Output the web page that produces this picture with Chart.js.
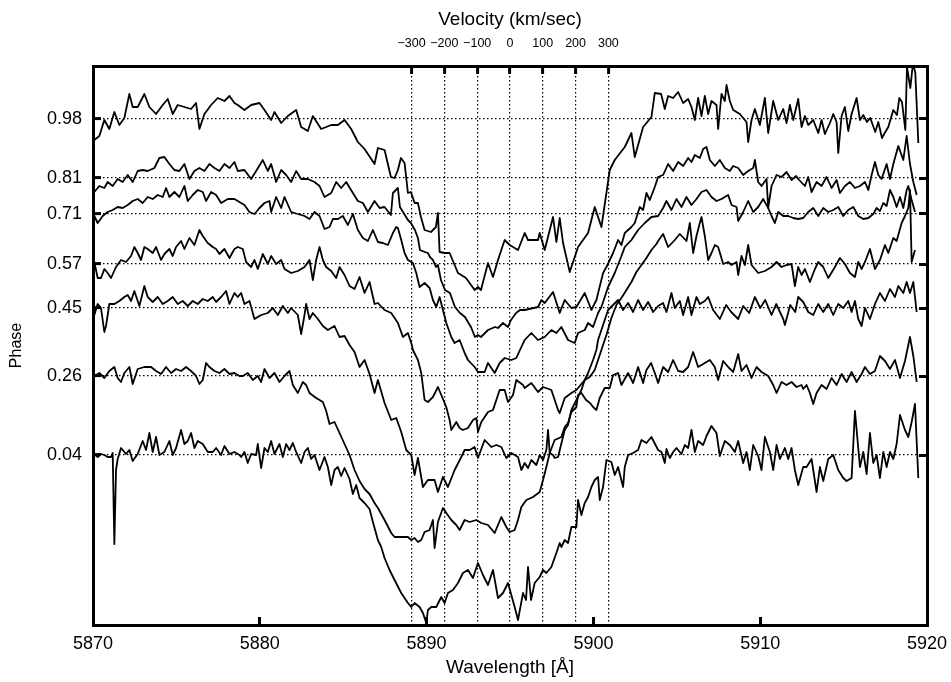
<!DOCTYPE html>
<html><head><meta charset="utf-8">
<script src="https://cdn.jsdelivr.net/npm/chart.js@4.4.1/dist/chart.umd.min.js"></script>
<style>html,body{margin:0;padding:0;background:#fff;}canvas{display:block;}</style>
</head><body>
<canvas id="c" width="951" height="682"></canvas>
<script>
// Phase labels and the vertical offset of each spectrum's reference line
const phaseLabels = ['0.98', '0.81', '0.71', '0.57', '0.45', '0.26', '0.04'];
const phaseOffsets = [506, 447, 411, 361, 317, 249, 170];
// Top axis: radial velocity ticks (km/s) relative to rest wavelength
const velocityTicks = [-300, -200, -100, 0, 100, 200, 300];
const restWavelength = 5895.0;
const wavelengthTicks = [5870, 5880, 5890, 5900, 5910, 5920];

// Spectra: wavelength (Angstrom) and offset flux (x100)
const wl098 = [5870.00,5870.08,5870.38,5870.68,5870.98,5871.28,5871.58,5871.88,5872.18,5872.38,5872.68,5873.08,5873.38,5873.78,5874.18,5874.48,5874.78,5875.08,5875.48,5875.88,5876.18,5876.38,5876.68,5877.08,5877.48,5877.88,5878.18,5878.48,5878.68,5879.08,5879.48,5879.98,5880.28,5880.68,5880.88,5881.28,5881.68,5882.18,5882.48,5882.88,5883.18,5883.68,5884.28,5884.68,5885.08,5885.48,5885.88,5886.28,5886.88,5887.08,5887.48,5887.86,5888.08,5888.28,5888.46,5888.68,5888.88,5889.06,5889.28,5889.48,5889.66,5889.88,5890.26,5890.56,5890.68,5890.78,5891.08,5891.38,5891.88,5892.36,5892.88,5893.08,5893.26,5893.68,5893.98,5894.28,5894.68,5894.98,5895.48,5895.88,5896.08,5896.68,5896.78,5897.08,5897.58,5897.78,5897.98,5898.18,5898.58,5899.08,5899.68,5900.08,5900.48,5900.78,5900.98,5901.28,5901.88,5902.28,5902.48,5902.98,5903.48,5903.68,5904.06,5904.28,5904.48,5904.78,5905.08,5905.38,5905.68,5905.88,5906.08,5906.28,5906.48,5906.68,5906.88,5907.08,5907.38,5907.48,5907.68,5907.88,5907.98,5908.18,5908.38,5908.78,5909.18,5909.28,5909.48,5909.68,5909.98,5910.28,5910.48,5910.78,5911.08,5911.38,5911.58,5911.78,5911.98,5912.28,5912.48,5912.68,5912.88,5913.18,5913.48,5913.68,5913.88,5914.18,5914.38,5914.58,5914.68,5914.88,5915.08,5915.28,5915.48,5915.78,5915.98,5916.18,5916.40,5916.60,5916.90,5917.08,5917.30,5917.50,5917.68,5917.98,5918.20,5918.34,5918.50,5918.70,5918.80,5919.00,5919.16,5919.30,5919.48];
const fx098 = [484,485,489,505,496,513,500,507,531,518,518,531,518,511,520,526,511,520,518,516,522,496,511,520,527,524,529,522,520,515,520,522,515,505,513,502,509,515,498,494,509,496,500,500,505,496,483,476,461,477,475,448,447,455,467,462,432,433,422,422,408,395,393,398,412,373,372,372,352,347,335,338,335,362,348,365,385,380,375,392,385,385,392,375,408,383,407,382,353,378,392,418,398,432,455,465,478,492,468,498,508,532,531,516,529,527,533,522,526,518,505,527,509,529,511,524,520,496,531,524,540,524,515,511,503,483,505,516,500,527,492,524,505,516,502,520,505,526,498,509,500,505,492,505,491,502,511,503,472,509,518,494,511,527,505,510,503,507,493,503,487,493,498,515,510,527,523,495,558,537,562,552,482];

const wl081 = [5870.00,5870.08,5870.38,5870.68,5870.88,5871.18,5871.48,5871.78,5872.08,5872.38,5872.68,5872.98,5873.28,5873.68,5873.98,5874.28,5874.58,5874.88,5875.18,5875.48,5875.78,5876.08,5876.38,5876.68,5876.98,5877.28,5877.58,5877.88,5878.18,5878.48,5878.68,5879.08,5879.48,5879.78,5880.18,5880.48,5880.68,5880.98,5881.28,5881.58,5881.88,5882.18,5882.48,5882.88,5883.28,5883.58,5883.88,5884.28,5884.58,5884.88,5885.18,5885.58,5885.88,5886.18,5886.48,5886.88,5887.18,5887.48,5887.86,5887.98,5888.28,5888.40,5888.88,5889.06,5889.30,5889.48,5889.60,5889.90,5890.08,5890.20,5890.38,5890.56,5890.68,5890.86,5891.10,5891.40,5891.70,5892.00,5892.30,5892.66,5892.90,5893.08,5893.26,5893.50,5893.68,5894.10,5894.28,5894.58,5894.88,5895.06,5895.36,5895.60,5895.88,5896.68,5896.88,5897.08,5897.58,5897.98,5898.28,5898.68,5898.98,5899.48,5899.88,5900.18,5900.58,5900.78,5900.98,5901.18,5901.48,5901.68,5901.88,5902.28,5902.48,5902.78,5902.98,5903.18,5903.38,5903.68,5903.88,5904.18,5904.48,5904.78,5905.08,5905.38,5905.68,5905.88,5906.08,5906.38,5906.58,5906.78,5906.98,5907.28,5907.58,5907.88,5908.18,5908.38,5908.68,5908.98,5909.28,5909.58,5909.68,5909.88,5910.08,5910.38,5910.48,5910.68,5910.98,5911.28,5911.58,5911.88,5912.16,5912.28,5912.68,5912.88,5913.08,5913.38,5913.68,5913.98,5914.28,5914.58,5914.78,5915.08,5915.38,5915.68,5915.98,5916.28,5916.48,5916.68,5916.88,5917.08,5917.28,5917.58,5917.78,5917.98,5918.28,5918.58,5918.78,5918.98,5919.18,5919.38];
const fx081 = [434,433,439,437,443,439,446,443,450,443,454,455,454,457,467,468,461,455,454,461,446,454,457,454,461,457,454,461,457,463,454,455,446,454,465,454,461,443,455,450,443,454,446,446,443,439,428,432,443,437,443,432,424,422,413,424,417,418,410,432,437,418,405,402,395,387,375,373,372,368,365,358,360,345,335,332,318,312,308,298,288,290,288,292,295,298,297,302,298,305,312,315,315,318,325,322,333,312,325,317,318,332,315,325,352,358,365,372,385,380,392,398,402,418,415,432,425,438,448,450,461,454,463,459,467,463,470,467,476,478,465,459,465,457,454,459,457,450,454,457,465,443,439,446,417,439,450,448,453,445,449,446,439,448,433,443,439,448,437,445,432,439,443,437,439,443,435,450,463,450,446,461,446,461,479,465,489,461,443,430];

const wl071 = [5870.00,5870.08,5870.28,5870.58,5870.88,5871.18,5871.48,5871.78,5872.08,5872.38,5872.68,5872.98,5873.28,5873.58,5873.88,5874.18,5874.38,5874.58,5874.88,5875.18,5875.48,5875.68,5875.98,5876.28,5876.58,5876.78,5877.08,5877.38,5877.68,5878.08,5878.48,5878.68,5879.08,5879.38,5879.68,5879.98,5880.28,5880.58,5880.68,5880.98,5881.28,5881.48,5881.88,5882.28,5882.68,5882.98,5883.28,5883.58,5883.88,5884.18,5884.38,5884.68,5884.98,5885.28,5885.58,5885.88,5886.18,5886.48,5886.78,5887.08,5887.38,5887.68,5887.98,5888.18,5888.28,5888.48,5888.68,5888.88,5889.18,5889.38,5889.58,5889.88,5890.18,5890.38,5890.58,5890.78,5890.98,5891.18,5891.48,5891.68,5891.98,5892.28,5892.48,5892.88,5893.08,5893.48,5893.68,5894.08,5894.38,5894.68,5895.08,5895.38,5895.68,5895.88,5896.28,5896.68,5897.08,5897.48,5897.78,5898.08,5898.48,5898.88,5899.08,5899.48,5899.68,5899.98,5900.28,5900.48,5900.88,5901.28,5901.66,5901.88,5902.28,5902.68,5903.08,5903.48,5903.88,5904.18,5904.38,5904.68,5904.98,5905.28,5905.58,5905.88,5906.18,5906.48,5906.78,5907.08,5907.38,5907.68,5908.08,5908.28,5908.58,5908.68,5908.98,5909.28,5909.58,5909.88,5910.18,5910.48,5910.68,5910.88,5911.08,5911.38,5911.68,5911.98,5912.28,5912.58,5912.88,5913.18,5913.48,5913.78,5914.08,5914.38,5914.68,5914.98,5915.28,5915.58,5915.88,5916.18,5916.48,5916.78,5916.98,5917.18,5917.38,5917.58,5917.78,5917.98,5918.18,5918.38,5918.58,5918.78,5918.88,5919.08,5919.28];
const fx071 = [410,409,402,409,413,415,418,417,420,424,426,422,428,426,430,428,437,428,433,428,439,424,430,435,433,424,433,430,422,426,426,424,420,413,411,417,422,424,413,428,417,428,413,411,409,406,413,409,396,398,406,406,409,400,411,395,387,384,395,383,382,380,392,398,397,385,372,365,362,352,338,342,337,325,318,328,315,302,288,282,285,272,265,258,253,253,262,252,262,267,265,267,278,285,292,285,288,295,292,298,285,282,292,295,302,298,312,318,338,352,368,378,385,395,402,408,409,417,424,415,426,418,428,420,426,433,435,428,424,426,430,420,418,404,413,424,413,418,426,417,409,402,413,409,409,407,406,407,413,417,409,417,413,415,418,409,415,418,409,406,407,411,417,414,422,419,435,428,418,428,417,435,439,425,413];

const wl057 = [5870.00,5870.08,5870.28,5870.48,5870.68,5870.88,5871.08,5871.38,5871.68,5871.98,5872.28,5872.48,5872.68,5872.88,5873.08,5873.28,5873.58,5873.78,5874.08,5874.28,5874.58,5874.78,5874.98,5875.28,5875.48,5875.78,5876.08,5876.38,5876.58,5876.88,5877.18,5877.38,5877.58,5877.88,5878.18,5878.48,5878.68,5878.98,5879.18,5879.48,5879.68,5879.88,5880.18,5880.48,5880.68,5880.98,5881.28,5881.48,5881.88,5882.28,5882.68,5882.98,5883.18,5883.38,5883.58,5883.78,5883.98,5884.28,5884.58,5884.78,5885.08,5885.38,5885.68,5885.98,5886.28,5886.58,5886.88,5887.08,5887.48,5887.88,5888.28,5888.58,5888.88,5889.08,5889.18,5889.48,5889.68,5889.88,5890.08,5890.38,5890.68,5890.88,5891.18,5891.38,5891.48,5891.78,5891.98,5892.18,5892.48,5892.78,5892.98,5893.08,5893.28,5893.48,5893.68,5893.98,5894.18,5894.38,5894.68,5894.88,5895.18,5895.38,5895.78,5895.88,5896.28,5896.68,5896.98,5897.48,5897.88,5897.98,5898.28,5898.68,5898.98,5899.48,5899.78,5900.08,5900.48,5900.78,5901.08,5901.38,5901.68,5901.98,5902.28,5902.58,5902.88,5903.18,5903.48,5903.78,5903.88,5904.18,5904.48,5904.88,5905.18,5905.58,5905.78,5905.98,5906.18,5906.38,5906.48,5906.68,5906.88,5907.08,5907.28,5907.48,5907.78,5908.08,5908.28,5908.58,5908.68,5908.88,5909.08,5909.28,5909.48,5909.88,5910.28,5910.68,5910.98,5911.28,5911.58,5911.88,5912.08,5912.28,5912.48,5912.68,5912.98,5913.28,5913.48,5913.78,5914.08,5914.48,5914.78,5915.08,5915.38,5915.68,5915.88,5916.08,5916.28,5916.58,5916.88,5917.18,5917.48,5917.68,5917.98,5918.18,5918.48,5918.68,5918.88,5918.98,5919.08,5919.28];
const fx057 = [363,363,347,347,356,352,347,358,365,363,369,378,372,365,378,376,372,378,365,371,376,369,378,384,376,387,380,395,389,382,378,376,371,376,367,376,378,376,363,358,365,356,371,361,369,361,365,356,352,354,358,365,345,365,378,365,358,354,347,358,350,339,336,348,332,343,321,322,315,312,302,288,292,282,275,265,252,225,223,228,238,230,218,205,195,203,197,195,197,205,207,193,203,208,213,215,225,235,235,223,230,245,240,237,242,233,238,235,215,212,227,232,235,245,248,255,275,290,307,320,327,335,343,353,360,367,375,381,384,391,378,385,391,384,402,372,389,402,408,389,365,372,380,378,361,363,360,363,350,369,360,380,360,352,354,358,363,358,360,361,339,358,350,356,343,356,363,358,347,358,367,361,352,348,363,356,363,376,356,365,380,372,387,384,402,409,417,435,363,375];

const wl045 = [5870.00,5870.08,5870.28,5870.48,5870.68,5870.78,5870.98,5871.28,5871.58,5871.88,5872.08,5872.28,5872.48,5872.78,5873.08,5873.28,5873.58,5873.88,5874.18,5874.48,5874.78,5875.08,5875.38,5875.68,5875.98,5876.28,5876.58,5876.88,5877.18,5877.38,5877.68,5877.98,5878.18,5878.48,5878.68,5878.88,5879.08,5879.38,5879.68,5880.08,5880.48,5880.78,5881.08,5881.38,5881.68,5881.88,5882.28,5882.48,5882.68,5882.78,5882.98,5883.18,5883.48,5883.78,5884.08,5884.48,5884.78,5885.08,5885.38,5885.68,5885.98,5886.28,5886.58,5886.88,5887.08,5887.48,5887.88,5888.18,5888.48,5888.78,5889.08,5889.28,5889.48,5889.78,5890.08,5890.48,5890.68,5890.98,5891.28,5891.68,5892.08,5892.28,5892.58,5892.88,5893.08,5893.48,5893.88,5894.18,5894.48,5894.78,5895.08,5895.48,5895.68,5895.88,5896.08,5896.28,5896.58,5896.78,5896.98,5897.18,5897.28,5897.38,5897.58,5897.68,5897.88,5898.28,5898.48,5898.68,5898.98,5899.28,5899.48,5899.68,5899.98,5900.18,5900.28,5900.58,5900.88,5901.18,5901.48,5901.78,5902.08,5902.38,5902.68,5902.98,5903.28,5903.58,5903.88,5904.18,5904.38,5904.68,5904.88,5905.18,5905.38,5905.68,5905.88,5906.18,5906.38,5906.68,5906.88,5907.18,5907.58,5907.96,5908.26,5908.68,5908.98,5909.34,5909.68,5910.00,5910.30,5910.68,5910.96,5911.38,5911.48,5911.80,5912.10,5912.28,5912.58,5912.88,5913.18,5913.48,5913.78,5914.08,5914.38,5914.68,5914.98,5915.28,5915.48,5915.68,5915.88,5916.08,5916.28,5916.58,5916.88,5917.18,5917.48,5917.78,5918.08,5918.28,5918.58,5918.78,5918.98,5919.18,5919.38];
const fx045 = [312,310,321,317,293,299,321,321,324,328,330,324,334,319,339,328,323,328,321,324,328,321,324,319,324,321,326,324,328,323,328,334,321,332,328,332,321,324,306,310,312,317,310,319,312,317,310,291,310,321,306,312,306,299,295,299,288,289,280,273,258,265,251,232,245,222,205,207,193,175,170,150,167,138,145,145,133,148,138,155,168,175,175,178,167,185,178,180,178,167,172,168,155,162,157,165,160,170,165,175,195,172,170,167,168,195,200,215,225,235,245,252,265,275,285,300,315,320,325,315,322,313,325,315,323,313,319,322,313,332,317,324,310,328,310,328,321,324,328,315,306,320,313,306,319,312,328,317,325,310,321,306,300,320,313,328,323,313,310,321,313,321,310,321,317,324,313,324,306,299,317,306,321,332,324,336,328,339,332,343,332,343,313];

const wl026 = [5870.00,5870.08,5870.38,5870.68,5870.98,5871.28,5871.48,5871.68,5871.88,5872.18,5872.38,5872.68,5873.08,5873.48,5873.78,5874.08,5874.38,5874.68,5874.98,5875.28,5875.58,5875.88,5876.18,5876.38,5876.58,5876.78,5876.98,5877.28,5877.58,5877.88,5878.18,5878.48,5878.78,5878.98,5879.28,5879.58,5879.88,5880.08,5880.28,5880.58,5880.88,5881.18,5881.48,5881.78,5881.98,5882.28,5882.58,5882.78,5882.98,5883.38,5883.78,5883.98,5884.18,5884.48,5884.78,5885.08,5885.38,5885.68,5885.98,5886.28,5886.58,5886.88,5887.08,5887.48,5887.88,5888.08,5888.48,5888.88,5889.08,5889.28,5889.48,5889.68,5889.88,5890.18,5890.38,5890.48,5890.68,5890.98,5891.18,5891.48,5891.78,5891.98,5892.28,5892.58,5892.98,5893.28,5893.68,5894.08,5894.48,5894.78,5894.98,5895.28,5895.48,5895.68,5895.98,5896.38,5896.78,5896.98,5897.18,5897.38,5897.68,5898.08,5898.28,5898.48,5898.68,5898.98,5899.08,5899.28,5899.56,5899.80,5899.98,5900.18,5900.38,5900.68,5900.98,5901.18,5901.48,5901.68,5902.08,5902.38,5902.68,5902.98,5903.18,5903.46,5903.68,5903.88,5904.18,5904.48,5904.78,5905.08,5905.38,5905.68,5905.98,5906.28,5906.68,5906.98,5907.28,5907.48,5907.78,5908.08,5908.38,5908.68,5908.88,5909.18,5909.48,5909.78,5910.08,5910.48,5910.78,5910.98,5911.28,5911.58,5911.88,5912.18,5912.48,5912.58,5912.78,5912.98,5913.18,5913.38,5913.68,5913.98,5914.28,5914.58,5914.88,5915.18,5915.48,5915.78,5916.08,5916.28,5916.58,5916.88,5917.18,5917.48,5917.78,5918.08,5918.38,5918.68,5918.98,5919.18,5919.38];
const fx026 = [249,249,252,247,254,258,247,243,252,258,241,256,258,258,254,251,258,252,256,254,258,254,249,241,245,262,258,254,252,256,251,252,249,249,252,245,249,243,256,247,252,243,249,254,240,232,243,240,232,227,223,214,201,203,192,181,170,155,144,136,131,122,117,105,92,88,88,88,85,87,83,85,93,95,105,77,103,117,112,105,100,95,105,103,105,102,100,92,108,98,93,95,105,118,125,128,133,145,158,172,185,188,198,202,213,218,230,232,225,222,218,215,227,237,237,250,252,240,252,242,258,242,255,262,252,242,258,253,265,254,253,258,273,258,262,265,258,245,264,258,253,271,254,260,247,258,253,249,240,232,243,240,243,238,240,236,240,232,221,232,240,236,247,240,251,243,253,243,251,258,251,254,269,264,256,265,247,264,288,269,243];

const wl004 = [5870.00,5870.08,5870.28,5870.48,5870.68,5870.88,5871.08,5871.18,5871.28,5871.38,5871.48,5871.68,5871.98,5872.18,5872.38,5872.68,5872.98,5873.18,5873.38,5873.58,5873.78,5873.98,5874.28,5874.58,5874.78,5874.98,5875.28,5875.48,5875.68,5875.88,5876.08,5876.28,5876.58,5876.88,5877.18,5877.38,5877.68,5877.88,5878.18,5878.48,5878.78,5878.88,5879.08,5879.28,5879.48,5879.78,5879.88,5880.08,5880.28,5880.48,5880.68,5880.88,5881.18,5881.38,5881.58,5881.78,5881.98,5882.18,5882.48,5882.68,5882.88,5883.08,5883.28,5883.58,5883.88,5884.08,5884.28,5884.48,5884.68,5884.88,5885.08,5885.38,5885.58,5885.78,5885.98,5886.28,5886.58,5886.78,5887.08,5887.28,5887.48,5887.78,5888.08,5888.48,5888.88,5889.08,5889.28,5889.58,5889.78,5889.98,5890.08,5890.28,5890.58,5890.88,5891.08,5891.28,5891.58,5891.88,5892.18,5892.48,5892.78,5893.08,5893.38,5893.68,5893.98,5894.28,5894.58,5894.88,5895.28,5895.48,5895.78,5895.96,5896.08,5896.26,5896.48,5896.78,5896.98,5897.18,5897.48,5897.78,5897.98,5898.08,5898.28,5898.48,5898.68,5898.98,5899.08,5899.28,5899.48,5899.68,5899.88,5900.08,5900.28,5900.38,5900.58,5900.78,5901.08,5901.28,5901.48,5901.78,5901.88,5902.08,5902.38,5902.68,5902.88,5903.18,5903.48,5903.88,5904.08,5904.28,5904.38,5904.58,5904.78,5904.98,5905.28,5905.48,5905.68,5905.88,5906.08,5906.28,5906.58,5906.78,5907.08,5907.38,5907.58,5907.88,5908.18,5908.48,5908.68,5908.98,5909.18,5909.38,5909.58,5909.88,5910.08,5910.28,5910.58,5910.78,5910.98,5911.18,5911.48,5911.68,5911.88,5912.08,5912.28,5912.58,5912.78,5913.08,5913.38,5913.58,5913.78,5914.08,5914.38,5914.68,5914.98,5915.18,5915.48,5915.68,5915.98,5916.18,5916.38,5916.58,5916.78,5916.98,5917.18,5917.38,5917.58,5917.78,5917.98,5918.18,5918.38,5918.68,5918.88,5919.08,5919.28,5919.48];
const fx004 = [171,171,168,171,170,168,168,172,81,155,166,177,171,175,164,171,184,175,192,173,188,170,173,184,170,177,195,181,184,192,177,184,181,173,173,177,170,179,171,173,170,168,173,162,171,170,181,157,177,173,184,171,181,168,181,175,182,173,162,173,177,166,170,155,168,158,140,155,158,149,157,146,131,140,127,122,116,103,85,78,67,55,45,32,22,18,22,18,12,2,15,18,18,28,22,32,35,42,52,55,47,62,50,40,55,27,32,42,18,5,32,25,58,25,42,48,55,52,58,72,82,78,85,82,98,98,125,110,122,128,138,145,148,125,138,165,163,150,158,138,158,170,172,175,185,182,188,175,173,162,176,167,173,177,171,180,177,195,173,184,180,189,199,192,169,184,180,173,184,162,173,155,180,169,155,188,173,155,180,166,177,166,177,155,140,158,158,166,133,158,144,166,170,155,147,144,147,214,158,173,151,192,162,170,147,173,158,173,166,181,210,195,188,203,221,147];

const seriesWl = [wl098, wl081, wl071, wl057, wl045, wl026, wl004];
const seriesFx = [fx098, fx081, fx071, fx057, fx045, fx026, fx004];
const FONT = "'Liberation Sans', Arial, Helvetica, sans-serif";
const fmtVel = v => (v < 0 ? '\u2212' + Math.abs(v) : String(v));

const datasets = seriesFx.map((fx, j) => {
  const wl = seriesWl[j];
  const n = Math.min(wl.length, fx.length);
  const pts = [];
  for (let i = 0; i < n; i++) pts.push({x: wl[i], y: fx[i]});
  return {
    label: phaseLabels[j],
    data: pts,
    borderColor: '#000',
    borderWidth: 1.8,
    borderJoinStyle: 'round',
    pointRadius: 0,
    tension: 0,
    fill: false,
    xAxisID: 'x',
    yAxisID: 'y'
  };
});

const noSidePad = s => { s.paddingLeft = 0; s.paddingRight = 0; };

new Chart(document.getElementById('c'), {
  type: 'line',
  data: {datasets},
  options: {
    responsive: false,
    animation: false,
    devicePixelRatio: 1,
    layout: {padding: 0},
    plugins: {legend: {display: false}, tooltip: {enabled: false}},
    scales: {
      x: {
        type: 'linear', position: 'bottom', min: 5870, max: 5920,
        afterBuildTicks: s => { s.ticks = wavelengthTicks.map(v => ({value: v})); },
        afterFit: s => { s.height = 57; noSidePad(s); },
        grid: {display: true, drawOnChartArea: false, drawTicks: true, tickLength: -8, tickWidth: 3, tickColor: '#000', color: '#000'},
        border: {display: true, width: 3, color: '#000'},
        ticks: {color: '#000', font: {family: FONT, size: 18}, padding: 16, maxRotation: 0, autoSkip: false,
          callback: (v, i) => String(wavelengthTicks[i])},
        title: {display: true, text: 'Wavelength [Å]', color: '#000', font: {family: FONT, size: 19}, padding: {top: 0, bottom: 3}}
      },
      xTop: {
        type: 'linear', position: 'top', min: 5870, max: 5920,
        afterBuildTicks: s => { s.ticks = velocityTicks.map(v => ({value: restWavelength * (1 + v / 299792.458)})); },
        afterFit: s => { s.height = 66; noSidePad(s); },
        grid: {display: true, drawOnChartArea: true, color: '#000', lineWidth: 1.2, tickLength: -8, tickWidth: 3, tickColor: '#000', tickBorderDash: []},
        border: {display: true, width: 3, color: '#000', dash: [1.5, 2.5]},
        ticks: {color: '#000', font: {family: FONT, size: 12.5}, padding: 23, maxRotation: 0, autoSkip: false,
          callback: (v, i) => fmtVel(velocityTicks[i])},
        title: {display: true, text: 'Velocity (km/sec)', color: '#000', font: {family: FONT, size: 19}, padding: {top: 8, bottom: 0}}
      },
      y: {
        type: 'linear', position: 'left', min: 0, max: 559,
        afterBuildTicks: s => { s.ticks = phaseOffsets.map(v => ({value: v})); },
        afterFit: s => { s.width = 93; },
        grid: {display: true, drawOnChartArea: true, color: '#000', lineWidth: 1.2, tickLength: -8, tickWidth: 3, tickColor: '#000', tickBorderDash: []},
        border: {display: true, width: 3, color: '#000', dash: [1.5, 2.5]},
        ticks: {color: '#000', font: {family: FONT, size: 18}, padding: 19, autoSkip: false,
          callback: (v, i) => phaseLabels[i]},
        title: {display: true, text: 'Phase', color: '#000', font: {family: FONT, size: 16}, padding: {top: 7, bottom: 0}}
      },
      yR: {
        type: 'linear', position: 'right', min: 0, max: 559,
        afterBuildTicks: s => { s.ticks = phaseOffsets.map(v => ({value: v})); },
        afterFit: s => { s.width = 24; },
        grid: {display: true, drawOnChartArea: false, tickLength: -8, tickWidth: 3, tickColor: '#000', color: '#000'},
        border: {display: true, width: 3, color: '#000'},
        ticks: {display: false}
      }
    }
  }
});
</script>
</body></html>
